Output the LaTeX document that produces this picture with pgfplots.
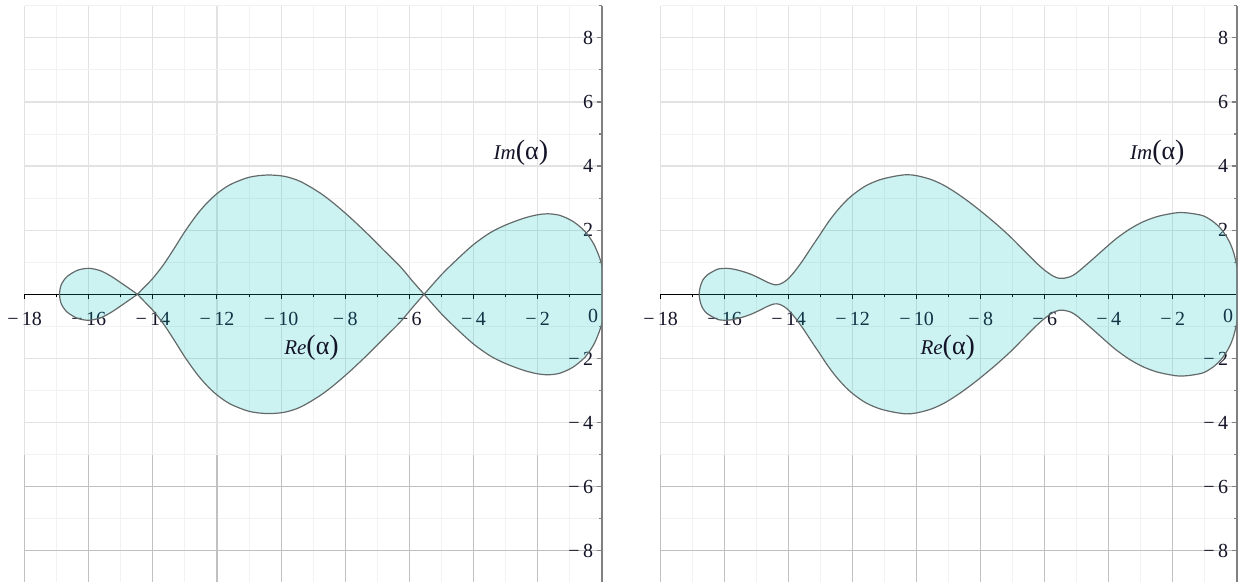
\documentclass[border=0pt]{standalone}
\usepackage{fontspec}
\setmainfont{Liberation Serif}
\usepackage{pgfplots}
\pgfplotsset{compat=1.18}
\usepackage{pgfplotstable}

\definecolor{regionfill}{RGB}{0,190,190}
\definecolor{curve}{RGB}{100,106,106}
\definecolor{gridmajor}{RGB}{226,226,226}
\definecolor{gridminor}{RGB}{242,242,242}
\definecolor{griddark}{RGB}{192,192,192}
\definecolor{yaxis}{RGB}{128,128,128}
\definecolor{labelink}{RGB}{20,20,40}

% Boundary of the region, left plane: upper arcs right to left, then lower arcs
% back to the right; "nan" rows split the outline at the two crossings.
\pgfplotstableread{
x y
0.07 0.00
0.05 0.55
0.00 0.92
-0.10 1.23
-0.26 1.59
-0.52 1.96
-0.89 2.27
-1.30 2.46
-1.66 2.51
-2.00 2.48
-2.44 2.37
-3.00 2.16
-3.48 1.92
-4.00 1.55
-4.52 1.08
-4.99 0.62
-5.54 0.00
nan nan
-5.54 0.00
-5.90 0.41
-6.28 0.86
-6.80 1.38
-7.32 1.90
-7.85 2.40
-8.36 2.84
-8.80 3.17
-9.40 3.52
-9.90 3.68
-10.44 3.72
-11.00 3.65
-11.59 3.42
-12.00 3.14
-12.32 2.84
-12.63 2.48
-13.00 1.96
-13.36 1.39
-13.67 0.92
-14.00 0.50
-14.25 0.24
-14.48 0.00
nan nan
-14.48 0.00
-14.91 0.30
-15.33 0.58
-15.65 0.74
-16.00 0.81
-16.35 0.75
-16.68 0.55
-16.86 0.29
-16.91 0.00
-16.86 -0.29
-16.68 -0.55
-16.35 -0.75
-16.00 -0.81
-15.65 -0.74
-15.33 -0.58
-14.91 -0.30
-14.48 0.00
nan nan
-14.48 0.00
-14.25 -0.24
-14.00 -0.50
-13.67 -0.92
-13.36 -1.39
-13.00 -1.96
-12.63 -2.48
-12.32 -2.84
-12.00 -3.14
-11.59 -3.42
-11.00 -3.65
-10.44 -3.72
-9.90 -3.68
-9.40 -3.52
-8.80 -3.17
-8.36 -2.84
-7.85 -2.40
-7.32 -1.90
-6.80 -1.38
-6.28 -0.86
-5.90 -0.41
-5.54 0.00
nan nan
-5.54 0.00
-4.99 -0.62
-4.52 -1.08
-4.00 -1.55
-3.48 -1.92
-3.00 -2.16
-2.44 -2.37
-2.00 -2.48
-1.66 -2.51
-1.30 -2.46
-0.89 -2.27
-0.52 -1.96
-0.26 -1.59
-0.10 -1.23
0.00 -0.92
0.05 -0.55
0.07 0.00
}\leftcurve

% Boundary of the region, right plane (one closed curve with two necks)
\pgfplotstableread{
x y
0.08 0.00
0.06 0.50
0.01 0.86
-0.09 1.28
-0.20 1.58
-0.32 1.80
-0.50 2.05
-0.74 2.27
-1.05 2.45
-1.47 2.53
-1.80 2.55
-2.09 2.51
-2.50 2.42
-2.93 2.26
-3.35 2.03
-3.76 1.74
-4.10 1.45
-4.38 1.20
-4.70 0.92
-5.01 0.66
-5.20 0.55
-5.40 0.50
-5.55 0.50
-5.74 0.57
-6.00 0.75
-6.26 0.98
-6.70 1.42
-7.09 1.81
-7.50 2.18
-7.93 2.54
-8.35 2.87
-8.76 3.16
-9.15 3.40
-9.55 3.58
-10.00 3.70
-10.32 3.73
-10.70 3.68
-11.16 3.57
-11.60 3.38
-12.00 3.10
-12.25 2.87
-12.51 2.58
-12.77 2.24
-13.03 1.85
-13.30 1.45
-13.55 1.07
-13.80 0.73
-14.00 0.50
-14.15 0.38
-14.30 0.31
-14.45 0.30
-14.65 0.37
-14.91 0.50
-15.17 0.62
-15.43 0.71
-15.70 0.78
-15.95 0.81
-16.20 0.79
-16.37 0.71
-16.55 0.60
-16.68 0.45
-16.76 0.25
-16.80 0.00
-16.76 -0.25
-16.68 -0.45
-16.55 -0.60
-16.37 -0.71
-16.20 -0.79
-15.95 -0.81
-15.70 -0.78
-15.43 -0.71
-15.17 -0.62
-14.91 -0.50
-14.65 -0.37
-14.45 -0.30
-14.30 -0.31
-14.15 -0.38
-14.00 -0.50
-13.80 -0.73
-13.55 -1.07
-13.30 -1.45
-13.03 -1.85
-12.77 -2.24
-12.51 -2.58
-12.25 -2.87
-12.00 -3.10
-11.60 -3.38
-11.16 -3.57
-10.70 -3.68
-10.32 -3.73
-10.00 -3.70
-9.55 -3.58
-9.15 -3.40
-8.76 -3.16
-8.35 -2.87
-7.93 -2.54
-7.50 -2.18
-7.09 -1.81
-6.70 -1.42
-6.26 -0.98
-6.00 -0.75
-5.74 -0.57
-5.55 -0.50
-5.40 -0.50
-5.20 -0.55
-5.01 -0.66
-4.70 -0.92
-4.38 -1.20
-4.10 -1.45
-3.76 -1.74
-3.35 -2.03
-2.93 -2.26
-2.50 -2.42
-2.09 -2.51
-1.80 -2.55
-1.47 -2.53
-1.05 -2.45
-0.74 -2.27
-0.50 -2.05
-0.32 -1.80
-0.20 -1.58
-0.09 -1.28
0.01 -0.86
0.06 -0.50
0.08 0.00
}\rightcurve

\newcommand{\lblfont}{\fontsize{10}{12}\selectfont}
\newcommand{\cplx}[1]{{\fontsize{10.5}{12}\selectfont\textit{#1}}{\fontsize{14}{16}\selectfont(}{\fontsize{13}{14}\selectfont α}{\fontsize{14}{16}\selectfont)}}

\pgfplotsset{
  plane/.style={
    set layers=standard,
    xmin=-18, xmax=0, ymin=-8.97, ymax=9,
    axis lines=middle,
    axis line style={-},
    x axis line style={black, line width=0.5pt},
    y axis line style={yaxis, line width=1pt},
    xtick={-18,-16,...,-2},
    xticklabels={{−\,18},{−\,16},{−\,14},{−\,12},{−\,10},{−\,8},{−\,6},{−\,4},{−\,2}},
    minor xtick={-17,-15,...,-1},
    ytick={-8,-6,-4,-2,2,4,6,8},
    yticklabels={{−\,8},{−\,6},{−\,4},{−\,2},2,4,6,8},
    minor ytick={-7,-5,...,9},
    extra x ticks={0},
    extra x tick labels={0},
    extra x tick style={grid=none, xticklabel style={xshift=-4.3pt, yshift=1.2pt}},
    hide obscured x ticks=false,
    grid=both,
    major grid style={gridmajor, line width=0.6pt},
    minor grid style={gridminor, line width=0.5pt},
    tick align=outside,
    major tick length=2.6pt,
    minor tick length=1.6pt,
    xtick style={black, line width=0.5pt},
    ytick style={yaxis, line width=0.6pt},
    tick label style={font=\lblfont, text=labelink},
    xticklabel style={anchor=base, yshift=-12.8pt},
    yticklabel style={anchor=east, inner sep=0pt, xshift=-1.5pt},
  },
  region fill/.style={fill=regionfill, fill opacity=0.2, draw=none, unbounded coords=discard, forget plot},
  region edge/.style={draw=curve, line width=0.6pt, smooth, tension=0.5, unbounded coords=jump, forget plot},
  heavy grid/.style={griddark, line width=0.6pt, on layer=axis grid, forget plot},
}

% heavier grid lines in the lower part of the plane
\newcommand{\lowergrid}{%
  \pgfplotsinvokeforeach{-18,-16,...,-2}{\addplot[heavy grid] coordinates {(##1,-5) (##1,-8.97)};}
  \addplot[heavy grid] coordinates {(-18,-6) (0,-6)};
  \addplot[heavy grid] coordinates {(-18,-8) (0,-8)};
}

\begin{document}
\begin{tikzpicture}

\begin{axis}[plane, x=16.03pt, y=16.03pt, anchor=origin, at={(300.85pt,-147.15pt)}]
  \lowergrid
  \addplot[region fill] table {\leftcurve};
  \addplot[region edge] table {\leftcurve};
  \node[anchor=base, text=labelink] at (axis cs:-9.05,-1.89) {\cplx{Re}};
  \node[anchor=base, text=labelink] at (axis cs:-2.52,4.21) {\cplx{Im}};
\end{axis}

\begin{axis}[plane, x=16pt, y=16.03pt, anchor=origin, at={(618.35pt,-147.15pt)}]
  \lowergrid
  \addplot[region fill] table {\rightcurve};
  \addplot[region edge] table {\rightcurve};
  \node[anchor=base, text=labelink] at (axis cs:-9.03,-1.89) {\cplx{Re}};
  \node[anchor=base, text=labelink] at (axis cs:-2.48,4.21) {\cplx{Im}};
\end{axis}

\pgfresetboundingbox
\useasboundingbox (0,0) rectangle (624.5pt,-291pt);
\end{tikzpicture}
\end{document}
